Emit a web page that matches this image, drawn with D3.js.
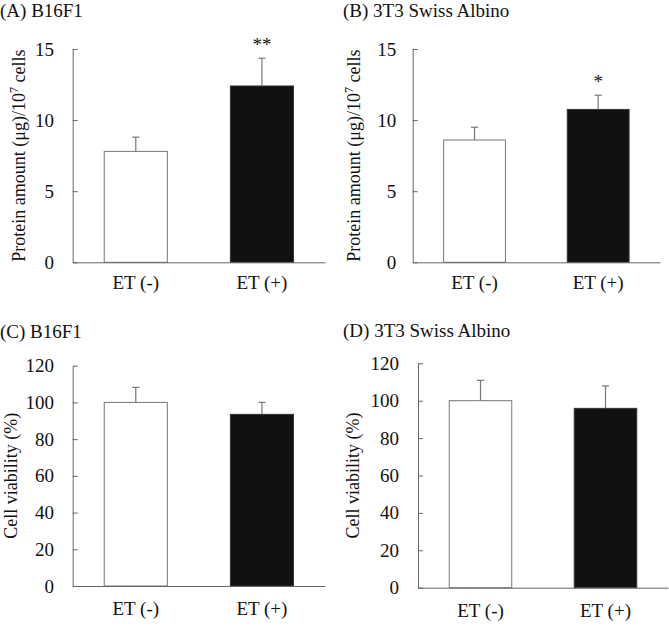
<!DOCTYPE html>
<html>
<head>
<meta charset="utf-8">
<script src="https://cdn.jsdelivr.net/npm/d3@7"></script>
<style>
  html, body { margin: 0; padding: 0; background: #fff; }
  svg { display: block; }
  text { font-family: "Liberation Serif", "Times New Roman", serif; fill: #111; }
</style>
</head>
<body>
<svg id="chart" width="669" height="630"></svg>
<script>
// ---------- data ----------
const categories = ["ET (-)", "ET (+)"];
const proteinB16F1 = [7.8, 12.4];
const proteinB16F1Err = [1.0, 1.95];
const protein3T3 = [8.6, 10.75];
const protein3T3Err = [0.9, 1.0];
const viabilityB16F1 = [100, 93.5];
const viabilityB16F1Err = [8.2, 6.5];
const viability3T3 = [100, 95.9];
const viability3T3Err = [10.9, 12.0];
const signifA = ["", "**"];
const signifB = ["", "*"];
const signifNone = ["", ""];
const proteinTicks = [0, 5, 10, 15];
const viabilityTicks = [0, 20, 40, 60, 80, 100, 120];
const titles = ["(A) B16F1", "(B) 3T3 Swiss Albino", "(C) B16F1", "(D) 3T3 Swiss Albino"];
const barFills = ["#ffffff", "#111111"];

// ---------- layout ----------
const panels = [
  { title: titles[0], vals: proteinB16F1, errs: proteinB16F1Err, sig: signifA, ticks: proteinTicks, dom: [0, 15],
    x0: 72.7, x1: 325, yTop: 49, yBot: 262.3, titleX: 0, titleY: 17, labX: 25, lab: "protein", tickPad: 18.7, xlabY: 27 },
  { title: titles[1], vals: protein3T3, errs: protein3T3Err, sig: signifB, ticks: proteinTicks, dom: [0, 15],
    x0: 412.7, x1: 660, yTop: 49, yBot: 262.3, titleX: 343, titleY: 17, labX: 360, lab: "protein", tickPad: 16.5, xlabY: 27 },
  { title: titles[2], vals: viabilityB16F1, errs: viabilityB16F1Err, sig: signifNone, ticks: viabilityTicks, dom: [0, 120],
    x0: 72.7, x1: 325, yTop: 365.7, yBot: 586, titleX: 0, titleY: 338, labX: 16.5, lab: "viability", tickPad: 18.7, xlabY: 29 },
  { title: titles[3], vals: viability3T3, errs: viability3T3Err, sig: signifNone, ticks: viabilityTicks, dom: [0, 120],
    x0: 418, x1: 668, yTop: 363.3, yBot: 587.7, titleX: 343, titleY: 337, labX: 359, lab: "viability", tickPad: 19, xlabY: 29 }
];

const svg = d3.select("#chart");
const axisColor = "#666";

panels.forEach(p => {
  const g = svg.append("g");
  const x = d3.scaleBand().domain(categories).range([p.x0, p.x1]).paddingInner(0.5).paddingOuter(0.25);
  const y = d3.scaleLinear().domain(p.dom).range([p.yBot, p.yTop]);

  // title
  g.append("text").attr("x", p.titleX).attr("y", p.titleY)
    .attr("font-size", 19).text(p.title);

  // y label
  const ly = (p.yTop + p.yBot) / 2;
  const lab = g.append("text")
    .attr("transform", `translate(${p.labX},${ly}) rotate(-90)`)
    .attr("text-anchor", "middle").attr("font-size", 18);
  if (p.lab === "protein") {
    lab.append("tspan").text("Protein amount (μg)/10");
    lab.append("tspan").attr("font-size", 12).attr("dy", -7).text("7");
    lab.append("tspan").attr("dy", 7).text(" cells");
  } else {
    lab.text("Cell viability (%)");
  }

  // bars
  g.selectAll("rect.bar").data(categories).join("rect")
    .attr("class", "bar")
    .attr("x", d => x(d))
    .attr("width", x.bandwidth())
    .attr("y", (d, i) => y(p.vals[i]))
    .attr("height", (d, i) => y(0) - y(p.vals[i]))
    .attr("fill", (d, i) => barFills[i])
    .attr("stroke", (d, i) => i === 0 ? "#777" : "#333")
    .attr("stroke-width", 1);

  // error bars (upper only)
  categories.forEach((c, i) => {
    const cx = x(c) + x.bandwidth() / 2;
    const top = y(p.vals[i] + p.errs[i]);
    g.append("line").attr("x1", cx).attr("x2", cx)
      .attr("y1", y(p.vals[i])).attr("y2", top)
      .attr("stroke", "#777").attr("stroke-width", 1.2);
    g.append("line").attr("x1", cx - 3.5).attr("x2", cx + 3.5)
      .attr("y1", top).attr("y2", top)
      .attr("stroke", "#777").attr("stroke-width", 1.2);
    if (p.sig[i]) {
      g.append("text").attr("x", cx).attr("y", top - 7)
        .attr("text-anchor", "middle").attr("font-size", 19)
        .text(p.sig[i]);
    }
  });

  // y axis (ticks inward)
  const yAxis = g.append("g").attr("transform", `translate(${p.x0},0)`)
    .call(d3.axisLeft(y).tickValues(p.ticks).tickSize(-5).tickSizeOuter(0).tickPadding(p.tickPad));
  yAxis.select(".domain").attr("stroke", axisColor);
  yAxis.selectAll(".tick line").attr("stroke", axisColor);
  yAxis.selectAll(".tick text").attr("font-size", 19)
    .attr("font-family", "Liberation Serif, Times New Roman, serif").attr("fill", "#111");

  // x axis
  const xAxis = g.append("g").attr("transform", `translate(0,${p.yBot})`)
    .call(d3.axisBottom(x).tickSize(0).tickSizeOuter(0));
  xAxis.select(".domain").attr("stroke", axisColor);
  xAxis.selectAll(".tick text").attr("dy", null).attr("y", p.xlabY).attr("font-size", 19)
    .attr("font-family", "Liberation Serif, Times New Roman, serif").attr("fill", "#111");
});
</script>
</body>
</html>
